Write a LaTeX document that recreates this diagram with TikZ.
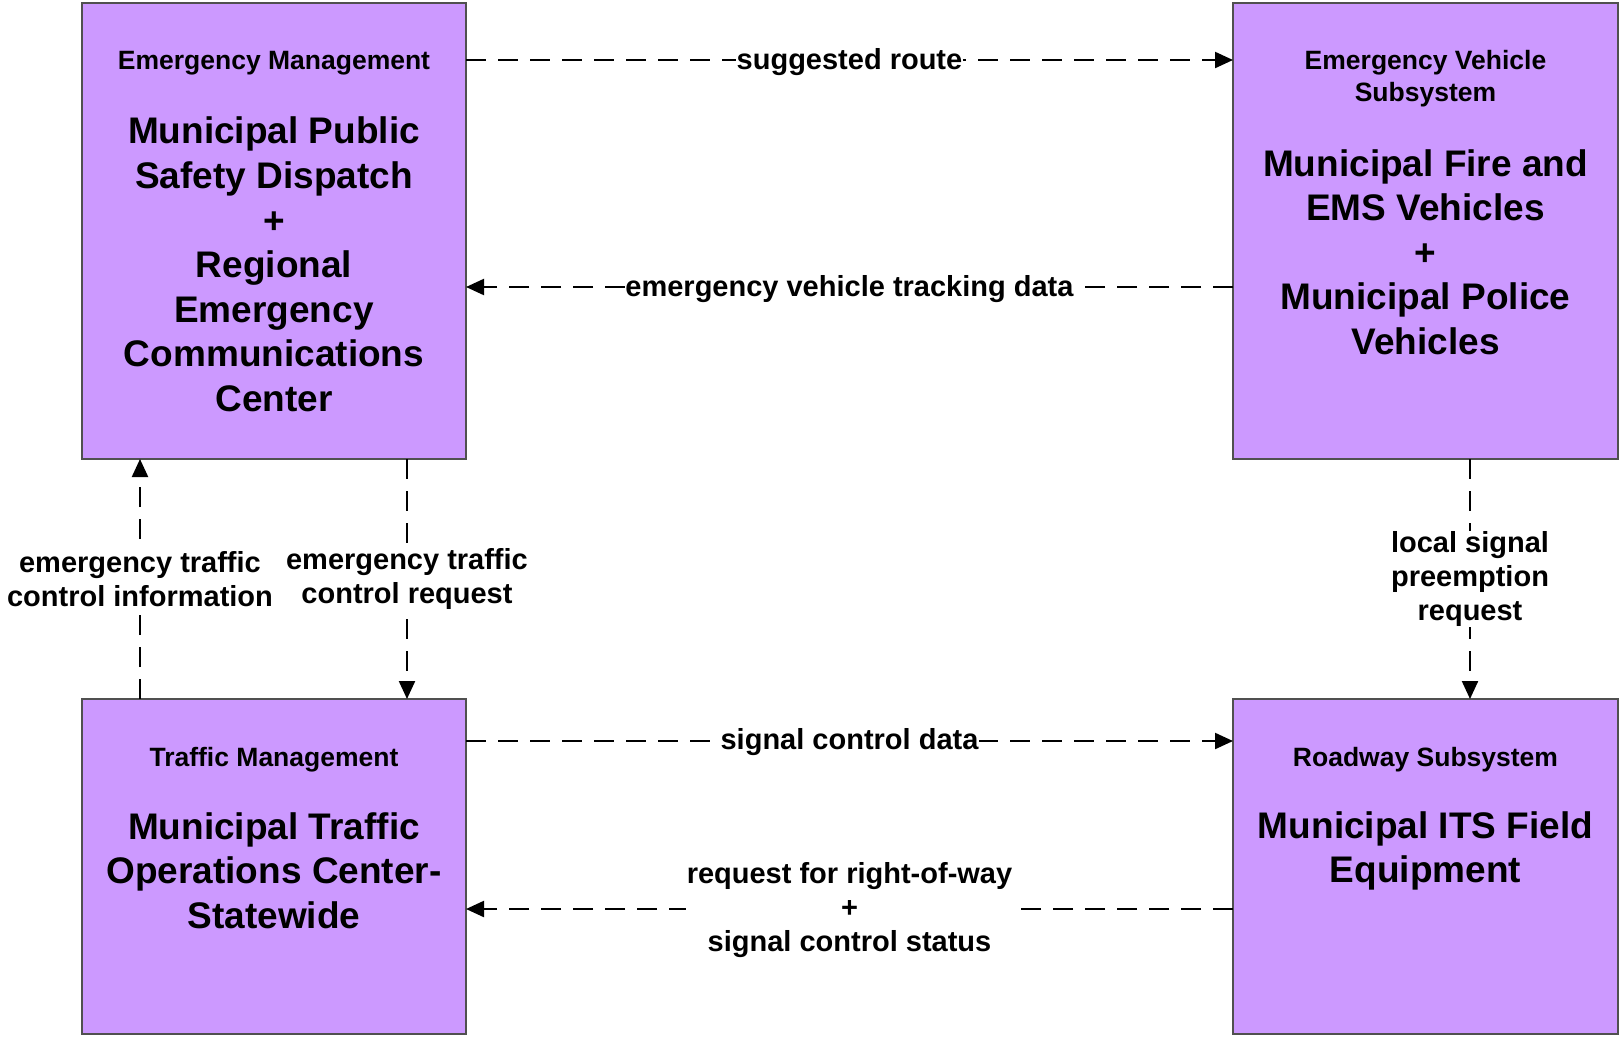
\documentclass[tikz,border=0pt]{standalone}
\usepackage{fontspec}
\setmainfont{Liberation Sans}
\usetikzlibrary{arrows.meta}
\definecolor{boxfill}{HTML}{CC99FF}
\definecolor{boxline}{HTML}{505050}
\tikzset{
  sysbox/.style={draw=boxline, fill=boxfill, line width=1.4pt, inner sep=0pt, outer sep=0pt, anchor=north west},
  headtxt/.style={font=\fontsize{26.5}{31.8}\selectfont\bfseries, align=center, inner sep=0pt},
  maintxt/.style={font=\fontsize{37}{44.6}\selectfont\bfseries, align=center, inner sep=0pt},
  flowlbl/.style={font=\fontsize{29}{34.3}\selectfont\bfseries, align=center, fill=white, inner sep=0.5pt},
  flow/.style={line width=2.2pt, dash pattern=on 20pt off 12pt, -{Triangle[length=18pt,width=16pt]}}
}
\begin{document}
\begin{tikzpicture}[x=1pt,y=-1pt]
\useasboundingbox (0,0) rectangle (1619,1037);
% boxes
\node[sysbox, minimum width=384pt, minimum height=456pt] (em) at (82,3) {};
\node[sysbox, minimum width=385pt, minimum height=456pt] (ev) at (1233,3) {};
\node[sysbox, minimum width=384pt, minimum height=335pt] (tm) at (82,699) {};
\node[sysbox, minimum width=385pt, minimum height=335pt] (rs) at (1233,699) {};
% texts
\node[headtxt] (emh) at (274,63) {Emergency Management};
\node[maintxt] (emt) at (274,264.5) {Municipal Public\\Safety Dispatch\\+\\Regional\\Emergency\\Communications\\Center};
\node[headtxt] (evh) at (1425.5,79) {Emergency Vehicle\\Subsystem};
\node[maintxt] (evt) at (1425.5,252) {Municipal Fire and\\EMS Vehicles\\+\\Municipal Police\\Vehicles};
\node[headtxt] (tmh) at (274,760) {Traffic Management};
\node[maintxt] (tmt) at (274,870.5) {Municipal Traffic\\Operations Center-\\Statewide};
\node[headtxt] (rsh) at (1425.5,760) {Roadway Subsystem};
\node[maintxt] (rst) at (1425.5,851) {Municipal ITS Field\\Equipment};
% flows
\draw[flow] ([yshift=-57pt]em.north east) -- node[flowlbl, yshift=-2pt] (l1) {suggested route} ([yshift=-57pt]ev.north west);
\draw[flow] ([yshift=-284pt]ev.north west) -- node[flowlbl, yshift=-2pt] (l2) {emergency vehicle tracking data} ([yshift=-284pt]em.north east);
\draw[flow] ([xshift=58pt]tm.north west) -- node[flowlbl] (l3) {emergency traffic\\control information} ([xshift=58pt]em.south west);
\draw[flow] ([xshift=325pt]em.south west) -- node[flowlbl] (l4) {emergency traffic\\control request} ([xshift=325pt]tm.north west);
\draw[flow] ([xshift=237pt]ev.south west) -- node[flowlbl] (l5) {local signal\\preemption\\request} ([xshift=237pt]rs.north west);
\draw[flow] ([yshift=-42pt]tm.north east) -- node[flowlbl, yshift=-1pt] (l6) {signal control data} ([yshift=-42pt]rs.north west);
\draw[flow] ([yshift=-210pt]rs.north west) -- node[flowlbl, yshift=-1pt] (l7) {request for right-of-way\\+\\signal control status} ([yshift=-210pt]tm.north east);
\end{tikzpicture}
\end{document}
